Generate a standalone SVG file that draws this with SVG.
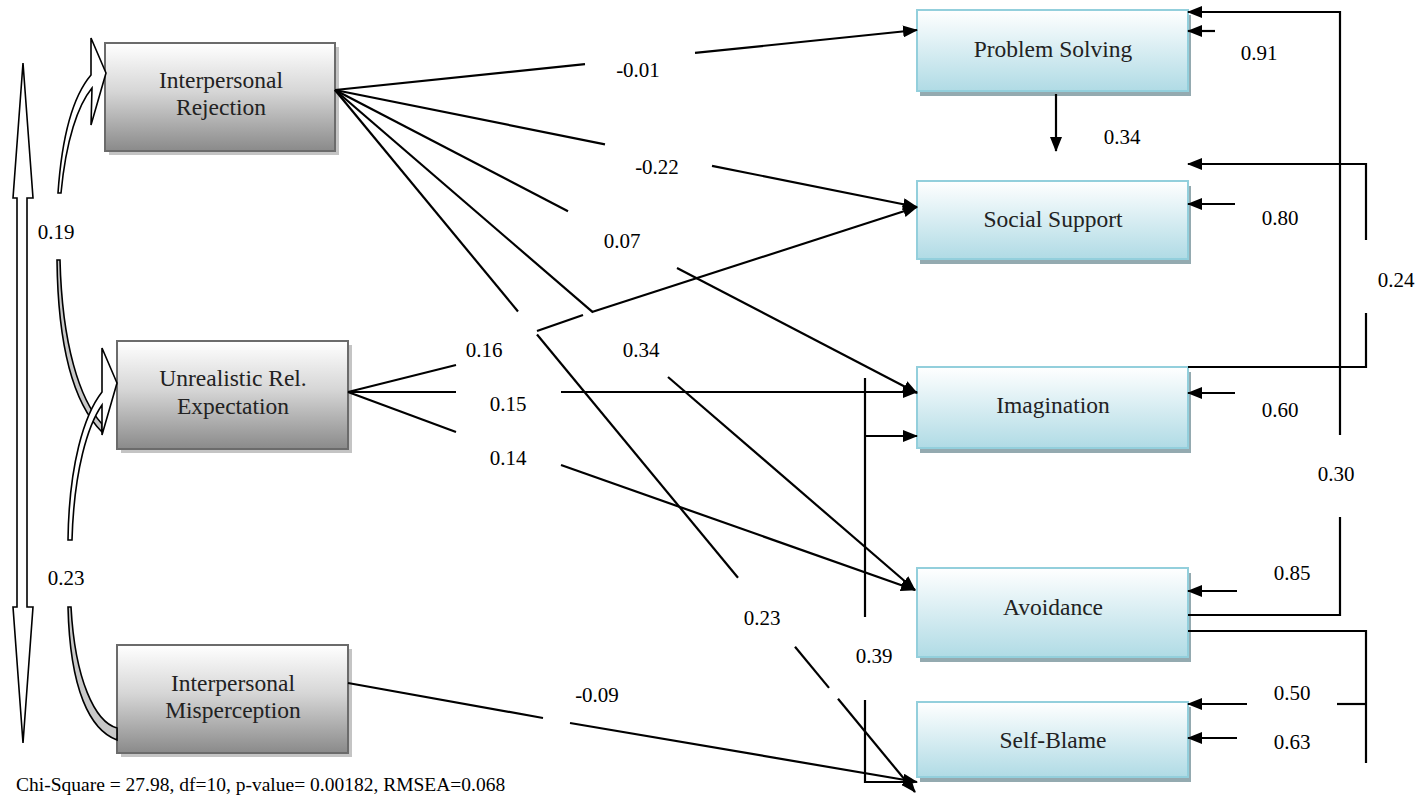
<svg xmlns="http://www.w3.org/2000/svg" width="1421" height="798" viewBox="0 0 1421 798">
<style>
.lbl{font-family:"Liberation Serif","Times New Roman",serif;font-size:21px;fill:#000;text-anchor:middle}
.bt{font-family:"Liberation Serif","Times New Roman",serif;font-size:23.5px;fill:#222;text-anchor:middle}
.ln{stroke:#000;stroke-width:2.2;fill:none}
.lnA{stroke:#000;stroke-width:2.2;fill:none;marker-end:url(#ah)}
.cv{stroke:#000;stroke-width:1.6;fill:#fff;stroke-linejoin:miter}
.tail{stroke:#000;stroke-width:1.6;fill:#c8c8c8}
.gbox{fill:url(#gg);stroke:#6b6b6b;stroke-width:2}
.gsh{fill:#c4c4c4}
.cbox{fill:url(#cg);stroke:#93cfdc;stroke-width:2}
.csh{fill:#94aab0}
</style>
<defs>
<linearGradient id="gg" x1="0" y1="0" x2="0" y2="1">
<stop offset="0" stop-color="#ffffff"/>
<stop offset="0.45" stop-color="#d6d6d6"/>
<stop offset="1" stop-color="#8a8a8a"/>
</linearGradient>
<linearGradient id="cg" x1="0" y1="0" x2="0" y2="1">
<stop offset="0" stop-color="#ffffff"/>
<stop offset="1" stop-color="#b0dbe5"/>
</linearGradient>
<marker id="ah" markerWidth="15" markerHeight="12" refX="14" refY="6" orient="auto" markerUnits="userSpaceOnUse">
<path d="M0,0 L15,6 L0,12 Z" fill="#000"/>
</marker>
</defs>

<g id="node-interpersonal-rejection">
<rect class="gsh" x="109" y="47" width="230" height="108"/>
<rect class="gbox" x="105" y="43" width="230" height="108"/>
<text class="bt" x="221" y="88">Interpersonal</text>
<text class="bt" x="221" y="115">Rejection</text>
</g>
<g id="node-unrealistic-rel-expectation">
<rect class="gsh" x="121" y="345" width="231" height="108"/>
<rect class="gbox" x="117" y="341" width="231" height="108"/>
<text class="bt" x="233" y="386">Unrealistic Rel.</text>
<text class="bt" x="233" y="414">Expectation</text>
</g>
<g id="node-interpersonal-misperception">
<rect class="gsh" x="121" y="649" width="231" height="108"/>
<rect class="gbox" x="117" y="645" width="231" height="108"/>
<text class="bt" x="233" y="691">Interpersonal</text>
<text class="bt" x="233" y="718">Misperception</text>
</g>

<g id="node-problem-solving">
<rect class="csh" x="920" y="15" width="271" height="81"/>
<rect class="cbox" x="917" y="10" width="271" height="81"/>
<text class="bt" x="1053" y="57">Problem Solving</text>
</g>
<g id="node-social-support">
<rect class="csh" x="920" y="186" width="271" height="78"/>
<rect class="cbox" x="917" y="181" width="271" height="78"/>
<text class="bt" x="1053" y="227">Social Support</text>
</g>
<g id="node-imagination">
<rect class="csh" x="920" y="372" width="271" height="81"/>
<rect class="cbox" x="917" y="367" width="271" height="81"/>
<text class="bt" x="1053" y="413">Imagination</text>
</g>
<g id="node-avoidance">
<rect class="csh" x="920" y="573" width="271" height="89"/>
<rect class="cbox" x="917" y="568" width="271" height="89"/>
<text class="bt" x="1053" y="615">Avoidance</text>
</g>
<g id="node-self-blame">
<rect class="csh" x="920" y="707" width="271" height="75"/>
<rect class="cbox" x="917" y="702" width="271" height="75"/>
<text class="bt" x="1053" y="748">Self-Blame</text>
</g>

<g id="connectors">
<path class="cv" d="M23,63 L33,198 L27,198 L27,607 L33,607 L23,743 L13,607 L17,607 L17,198 L13,198 Z"/>
<path class="tail" d="M57,260 C58,350 75,405 102,432 L102,424 C80,400 62,345 60,260 Z"/>
<path class="cv" d="M91,38 L106,73 L91,125 L92,88 C78,105 66,140 61,193 L58,193 C62,135 74,95 91,75 Z"/>
<path class="tail" d="M68,607 C70,690 90,730 117,740 L117,728 C95,722 75,680 71,607 Z"/>
<path class="cv" d="M102,348 L117,383 L102,435 L102,405 C88,425 74,470 72,540 L68,540 C69,465 84,415 102,392 Z"/>

<line class="ln" x1="335" y1="90" x2="585" y2="64.2"/>
<line class="lnA" x1="695" y1="52.9" x2="917" y2="30"/>
<line class="ln" x1="335" y1="90" x2="605" y2="144.3"/>
<line class="lnA" x1="712" y1="165.8" x2="917" y2="207"/>
<line class="ln" x1="335" y1="90" x2="568" y2="211.3"/>
<line class="lnA" x1="677" y1="268" x2="917" y2="393"/>
<line class="ln" x1="335" y1="90" x2="593" y2="312.4"/>
<line class="lnA" x1="668" y1="377" x2="915" y2="590"/>
<line class="ln" x1="335" y1="90" x2="518" y2="311.5"/>
<line class="ln" x1="537" y1="334.5" x2="738" y2="577.8"/>
<line class="ln" x1="795" y1="646.7" x2="829" y2="687.9"/>
<line class="lnA" x1="838" y1="698.8" x2="915" y2="792"/>

<line class="ln" x1="348" y1="392" x2="456" y2="365"/>
<line class="ln" x1="537" y1="331" x2="583" y2="315"/>
<line class="lnA" x1="592" y1="312" x2="917" y2="207"/>
<line class="ln" x1="348" y1="392" x2="456" y2="392"/>
<line class="lnA" x1="561" y1="392" x2="917" y2="392"/>
<line class="ln" x1="348" y1="392" x2="456" y2="432"/>
<line class="lnA" x1="561" y1="465" x2="915" y2="590"/>

<line class="ln" x1="348" y1="683" x2="543" y2="718"/>
<line class="lnA" x1="570" y1="723" x2="917" y2="782"/>

<polyline class="ln" points="865,378 865,617"/>
<line class="lnA" x1="865" y1="436" x2="917" y2="436"/>
<polyline class="ln" points="865,700 865,782 910,782"/>

<line class="lnA" x1="1056" y1="94" x2="1056" y2="151"/>

<polyline class="lnA" points="1340,435 1340,12 1188,12"/>
<polyline class="ln" points="1340,517 1340,615 1188,615"/>
<line class="lnA" x1="1215" y1="31" x2="1188" y2="31"/>
<polyline class="lnA" points="1366,240 1366,164 1188,164"/>
<polyline class="ln" points="1366,313 1366,367 1188,367"/>
<line class="lnA" x1="1235" y1="204" x2="1188" y2="204"/>
<line class="lnA" x1="1235" y1="393" x2="1188" y2="393"/>
<line class="lnA" x1="1237" y1="591" x2="1188" y2="591"/>
<polyline class="ln" points="1188,631 1366,631 1366,763"/>
<line class="ln" x1="1337" y1="704" x2="1366" y2="704"/>
<line class="lnA" x1="1247" y1="704" x2="1188" y2="704"/>
<line class="lnA" x1="1237" y1="738" x2="1188" y2="738"/>
</g>

<g id="labels">
<text class="lbl" x="56" y="239">0.19</text>
<text class="lbl" x="66" y="585">0.23</text>
<text class="lbl" x="638" y="77">-0.01</text>
<text class="lbl" x="657" y="174">-0.22</text>
<text class="lbl" x="622" y="248">0.07</text>
<text class="lbl" x="484" y="357">0.16</text>
<text class="lbl" x="641" y="357">0.34</text>
<text class="lbl" x="508" y="411">0.15</text>
<text class="lbl" x="508" y="465">0.14</text>
<text class="lbl" x="762" y="625">0.23</text>
<text class="lbl" x="874" y="663">0.39</text>
<text class="lbl" x="597" y="702">-0.09</text>
<text class="lbl" x="1122" y="144">0.34</text>
<text class="lbl" x="1259" y="60">0.91</text>
<text class="lbl" x="1280" y="225">0.80</text>
<text class="lbl" x="1396" y="287">0.24</text>
<text class="lbl" x="1280" y="417">0.60</text>
<text class="lbl" x="1336" y="481">0.30</text>
<text class="lbl" x="1292" y="580">0.85</text>
<text class="lbl" x="1292" y="700">0.50</text>
<text class="lbl" x="1292" y="749">0.63</text>
<text x="16" y="791" style="font-family:'Liberation Serif','Times New Roman',serif;font-size:19.5px;fill:#000">Chi-Square = 27.98, df=10, p-value= 0.00182, RMSEA=0.068</text>
</g>
</svg>
